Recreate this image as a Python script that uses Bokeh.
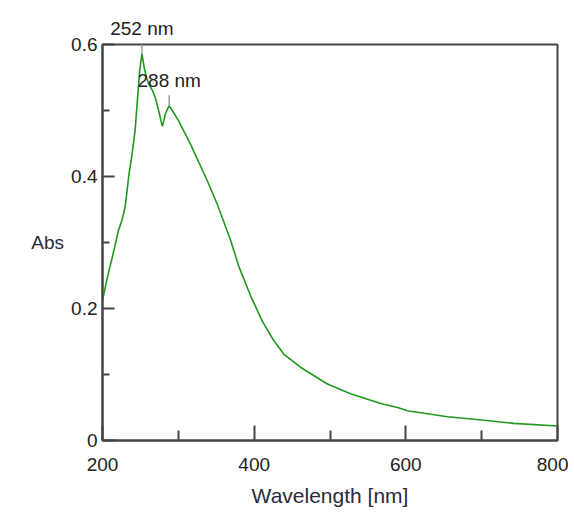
from bokeh.plotting import figure
from bokeh.models import FixedTicker, LabelSet, ColumnDataSource, Range1d, LinearAxis
from bokeh.core.properties import value
from bokeh.embed import file_html
from bokeh.resources import INLINE

# --- data -------------------------------------------------------------
wavelength = [200, 206, 213, 221, 226, 230, 235, 239, 243, 246, 249, 252,
              255, 258, 261, 266, 270, 274, 277, 279, 281, 283, 286, 288,
              292, 300, 316, 338, 351, 369, 380, 395, 411, 425, 439, 461,
              496, 527, 567, 589, 602, 655, 700, 742, 800]
absorbance = [0.212, 0.245, 0.278, 0.318, 0.335, 0.355, 0.404, 0.434, 0.470,
              0.515, 0.560, 0.586, 0.565, 0.550, 0.540, 0.530, 0.518, 0.500,
              0.485, 0.476, 0.485, 0.495, 0.503, 0.507, 0.500, 0.485, 0.449,
              0.394, 0.359, 0.303, 0.263, 0.220, 0.180, 0.153, 0.131, 0.111,
              0.086, 0.071, 0.056, 0.050, 0.045, 0.036, 0.031, 0.026, 0.022]

peak_wl = [252, 288]
peak_abs = [0.586, 0.507]
peak_labels = ["252 nm", "288 nm"]

x_major = [200, 400, 600, 800]
x_minor = [300, 500, 700]
y_major = [0, 0.2, 0.4, 0.6]
y_minor = [0.1, 0.3, 0.5]
y_tick_labels = {0: "0", 0.2: "0.2", 0.4: "0.4", 0.6: "0.6"}

FONT = "Liberation Sans"
AXC = "#444444"
TXC = "#222222"
LBC = "#2a2a3a"

p = figure(width=568, height=513, output_backend="svg", toolbar_location=None,
           x_range=Range1d(200, 800), y_range=Range1d(0, 0.6),
           min_border_left=102, min_border_top=44, min_border_right=11,
           min_border_bottom=73)
p.background_fill_color = "white"
p.border_fill_color = "white"
p.outline_line_color = AXC
p.outline_line_width = 2
p.xgrid.visible = False
p.ygrid.visible = False

p.line(wavelength, absorbance, line_color="#1f9a1f", line_width=1.6)

# peak markers (short grey ticks above each peak)
pk = ColumnDataSource(dict(x=peak_wl, y=peak_abs, txt=peak_labels,
                           y1=[v + 0.016 for v in peak_abs]))
p.segment(x0="x", y0="y", x1="x", y1="y1", source=pk,
          line_color="#9a9a9a", line_width=1.5)

# labels for peaks inside the frame
inside = ColumnDataSource(dict(x=peak_wl[1:], y=peak_abs[1:], txt=peak_labels[1:]))
p.add_layout(LabelSet(x="x", y="y", text="txt", source=inside, y_offset=15,
                      text_align="center", text_baseline="bottom",
                      text_font=value(FONT), text_font_size="19px",
                      text_color=TXC))

# x axis (bottom)
xa = p.below[0]
xa.ticker = FixedTicker(ticks=x_major, minor_ticks=x_minor)
xa.major_tick_in = 15
xa.major_tick_out = 0
xa.minor_tick_in = 10
xa.minor_tick_out = 0
xa.axis_line_color = AXC
xa.axis_line_width = 2
xa.major_tick_line_color = AXC
xa.major_tick_line_width = 2
xa.minor_tick_line_color = AXC
xa.minor_tick_line_width = 2
xa.major_label_standoff = 17
xa.major_label_text_font = FONT
xa.major_label_text_font_size = "19px"
xa.major_label_text_color = TXC
xa.axis_label = "Wavelength [nm]"
xa.axis_label_text_font = FONT
xa.axis_label_text_font_size = "21px"
xa.axis_label_text_font_style = "normal"
xa.axis_label_text_color = LBC
xa.axis_label_standoff = 10

# y axis (left)
ya = p.left[0]
ya.ticker = FixedTicker(ticks=y_major, minor_ticks=y_minor)
ya.major_label_overrides = y_tick_labels
ya.major_tick_in = 12
ya.major_tick_out = 0
ya.minor_tick_in = 7
ya.minor_tick_out = 0
ya.axis_line_color = AXC
ya.axis_line_width = 2
ya.major_tick_line_color = AXC
ya.major_tick_line_width = 2
ya.minor_tick_line_color = AXC
ya.minor_tick_line_width = 2
ya.major_label_standoff = 5
ya.major_label_text_font = FONT
ya.major_label_text_font_size = "19px"
ya.major_label_text_color = TXC
ya.axis_label = "Abs"
ya.axis_label_orientation = "horizontal"
ya.axis_label_text_font = FONT
ya.axis_label_text_font_size = "19px"
ya.axis_label_text_font_style = "normal"
ya.axis_label_text_color = LBC
ya.axis_label_standoff = 4

# label for the peak that sits above the frame: a bare axis above
top_ax = LinearAxis(ticker=FixedTicker(ticks=peak_wl[:1], minor_ticks=[]),
                    major_label_overrides={peak_wl[0]: peak_labels[0]})
top_ax.axis_line_color = None
top_ax.major_tick_line_color = None
top_ax.minor_tick_line_color = None
top_ax.major_label_standoff = 0
top_ax.major_label_text_font = FONT
top_ax.major_label_text_font_size = "19px"
top_ax.major_label_text_color = TXC
p.add_layout(top_ax, "above")

open("out.html", "w").write(file_html(p, INLINE))
